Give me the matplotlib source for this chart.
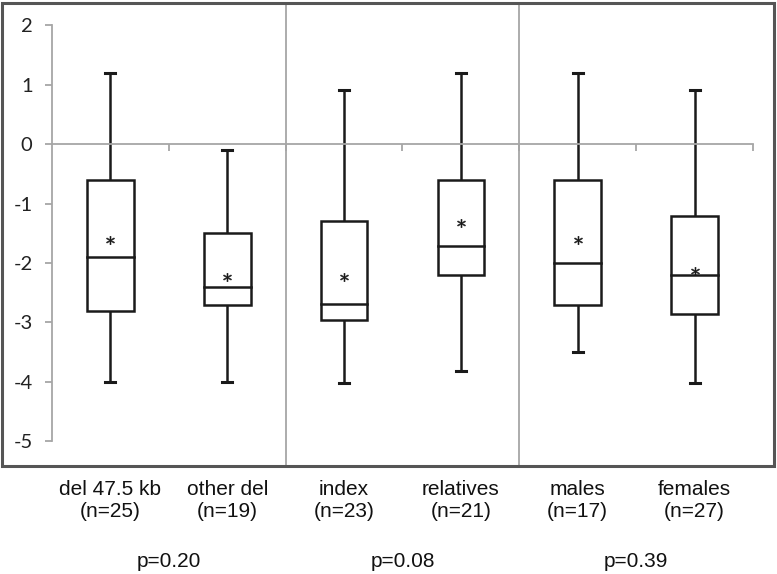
import matplotlib
matplotlib.use("Agg")
import matplotlib.pyplot as plt
import matplotlib.transforms as mtransforms
from matplotlib.patches import Rectangle

plt.rcParams["axes.unicode_minus"] = False
plt.rcParams["font.family"] = ["Lato", "DejaVu Sans"]

# datos (whisker sup, Q3, mediana, Q1, whisker inf, media)
categorias = ["del 47.5 kb", "other del", "index", "relatives", "males", "females"]
n_labels = ["(n=25)", "(n=19)", "(n=23)", "(n=21)", "(n=17)", "(n=27)"]
maximos = [1.2, -0.1, 0.9, 1.2, 1.2, 0.9]
q3 = [-0.6, -1.5, -1.3, -0.6, -0.6, -1.21]
medianas = [-1.9, -2.4, -2.69, -1.72, -2.0, -2.2]
q1 = [-2.8, -2.7, -2.96, -2.2, -2.71, -2.86]
minimos = [-4.0, -4.0, -4.02, -3.82, -3.5, -4.02]
medias = [-1.62, -2.24, -2.24, -1.33, -1.62, -2.14]
p_valores = ["p=0.20", "p=0.08", "p=0.39"]
p_pos = [1.5, 3.5, 5.5]
separadores = [2.5, 4.5]

W, H = 777, 574
fig = plt.figure(figsize=(W / 100, H / 100), dpi=100)
fig.patch.set_facecolor("white")

# ejes ocupan la zona interior del marco
ax = fig.add_axes([52 / W, (H - 466) / H, (753 - 52) / W, 463 / H])
ax.set_xlim(0.5, 6.5)
ax.set_ylim(-5.412, 2.370)
ax.patch.set_alpha(0)

gris = "#a6a6a6"
for s in ["top", "right"]:
    ax.spines[s].set_visible(False)
ax.spines["left"].set_bounds(-5, 2)
ax.spines["left"].set_color(gris)
ax.spines["left"].set_linewidth(1.3)
ax.spines["bottom"].set_position(("data", 0))
ax.spines["bottom"].set_color(gris)
ax.spines["bottom"].set_linewidth(1.3)

ax.set_yticks(range(-5, 3))
ax.tick_params(axis="y", length=5, width=1.3, color=gris, pad=9,
               labelsize=14.5, labelcolor="#222222")
ax.set_xticks([1.5, 2.5, 3.5, 4.5, 5.5, 6.5])
ax.tick_params(axis="x", length=5, width=1.3, color=gris, labelbottom=False)

for xs in separadores:
    ax.axvline(xs, color=gris, lw=1.3, zorder=1)

# cajas dibujadas a mano, como en Excel
negro = "#1a1a1a"
ancho = 0.40
cap = 0.043
lw = 1.8
for i in range(len(categorias)):
    x = i + 1
    ax.add_patch(Rectangle((x - ancho / 2, q1[i]), ancho, q3[i] - q1[i],
                           fill=True, facecolor="white", edgecolor=negro,
                           lw=lw, zorder=3))
    ax.plot([x - ancho / 2, x + ancho / 2], [medianas[i], medianas[i]],
            color=negro, lw=lw, zorder=4)
    ax.plot([x, x], [q3[i], maximos[i]], color=negro, lw=lw, zorder=2)
    ax.plot([x, x], [q1[i], minimos[i]], color=negro, lw=lw, zorder=2)
    ax.plot([x - cap, x + cap], [maximos[i], maximos[i]], color=negro, lw=2.2, zorder=2)
    ax.plot([x - cap, x + cap], [minimos[i], minimos[i]], color=negro, lw=2.2, zorder=2)

ax.plot(range(1, len(categorias) + 1), medias, linestyle="none",
        marker="$*$", markersize=6, markeredgewidth=0.4, color=negro, zorder=5)

# etiquetas bajo el marco
tr = mtransforms.blended_transform_factory(ax.transData, fig.transFigure)
fuente = dict(fontsize=15, family="Liberation Sans", color="#111111",
              ha="center", va="baseline", transform=tr)
for i, (c, n) in enumerate(zip(categorias, n_labels)):
    ax.text(i + 1, (H - 495) / H, c, **fuente)
    ax.text(i + 1, (H - 517) / H, n, **fuente)
for xp, p in zip(p_pos, p_valores):
    ax.text(xp, (H - 567) / H, p, **fuente)

# marco exterior
fig.patches.append(Rectangle((2 / W, (H - 466) / H), 772 / W, 463 / H,
                             transform=fig.transFigure, fill=False,
                             edgecolor="#555555", lw=2.2))

fig.savefig("out.png", dpi=100)
